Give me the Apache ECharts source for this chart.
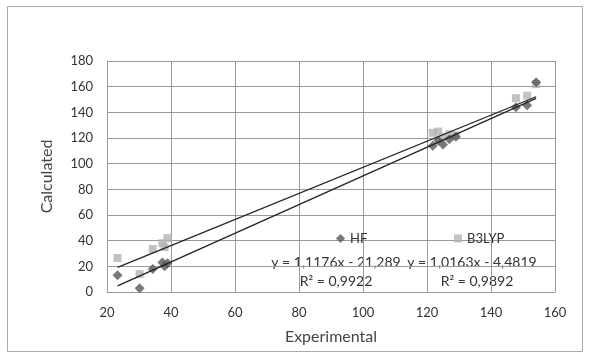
<!DOCTYPE html>
<html>
<head>
<meta charset="utf-8">
<script src="https://cdn.jsdelivr.net/npm/echarts@6/dist/echarts.min.js"></script>
<style>
  html, body { margin: 0; padding: 0; background: #fff; }
  #main { width: 591px; height: 357px; }
</style>
</head>
<body>
<div id="main"></div>
<script>
// experimental values (x), shared by both methods
var experimental = [23.3, 30.2, 34.3, 37.3, 38.0, 38.9, 121.8, 123.5, 125.0, 127.0, 129.0, 147.8, 151.3, 154.1];
var hfValues     = [13, 3, 18, 23, 20, 22.5, 114, 118, 115, 119, 121, 144, 145.5, 163.5];
var b3lypValues  = [26.5, 14, 33.5, 38, 35, 42, 124, 125, 121, 123, 122, 151, 153, 162];

// trendlines as printed on the chart
var hfFit    = { slope: 1.1176, intercept: -21.289, eq: 'y = 1,1176x - 21,289', r2: 'R² = 0,9922' };
var b3lypFit = { slope: 1.0163, intercept: -4.4819, eq: 'y = 1,0163x - 4,4819', r2: 'R² = 0,9892' };

var xTicks = [20, 40, 60, 80, 100, 120, 140, 160];
var yTicks = [0, 20, 40, 60, 80, 100, 120, 140, 160, 180];

function pairs(xs, ys) {
    return xs.map(function (x, i) { return [x, ys[i]]; });
}
function fitLine(fit) {
    var x0 = Math.min.apply(null, experimental);
    var x1 = Math.max.apply(null, experimental);
    return [[x0, fit.slope * x0 + fit.intercept], [x1, fit.slope * x1 + fit.intercept]];
}

var chartDom = document.getElementById('main');
var myChart = echarts.init(chartDom, null, { renderer: 'canvas' });
var font = 'Lato, "Liberation Sans", sans-serif';
var option;

option = {
    animation: false,
    backgroundColor: '#fff',
    textStyle: { fontFamily: font },
    grid: { left: 107, top: 61, right: 36, bottom: 65 },
    legend: [
        {
            data: [{ name: 'HF', icon: 'diamond' }],
            left: 331, top: 227,
            itemWidth: 9, itemHeight: 9,
            textStyle: { color: '#333', fontSize: 13, fontFamily: font }
        },
        {
            data: [{ name: 'B3LYP', icon: 'rect' }],
            left: 449, top: 227,
            itemWidth: 8, itemHeight: 8,
            textStyle: { color: '#333', fontSize: 13, fontFamily: font }
        }
    ],
    xAxis: {
        type: 'value',
        min: xTicks[0], max: xTicks[xTicks.length - 1], interval: 20,
        name: 'Experimental',
        nameLocation: 'middle', nameGap: 37,
        nameTextStyle: { color: '#444', fontSize: 16, fontFamily: font },
        axisLine: { show: true, lineStyle: { color: '#999' } },
        axisTick: { show: false },
        axisLabel: { color: '#333', fontSize: 13, margin: 14 },
        splitLine: { show: true, lineStyle: { color: '#999', width: 1 } }
    },
    yAxis: {
        type: 'value',
        min: yTicks[0], max: yTicks[yTicks.length - 1], interval: 20,
        name: 'Calculated',
        nameLocation: 'middle', nameGap: 52,
        nameTextStyle: { color: '#444', fontSize: 16, fontFamily: font },
        axisLine: { show: true, lineStyle: { color: '#999' } },
        axisTick: { show: false },
        axisLabel: { color: '#333', fontSize: 13, margin: 14 },
        splitLine: { show: true, lineStyle: { color: '#999', width: 1 } }
    },
    series: [
        {
            name: 'B3LYP',
            type: 'scatter',
            symbol: 'rect',
            symbolSize: 8,
            itemStyle: { color: '#b3b3b3' },
            data: pairs(experimental, b3lypValues),
            z: 2
        },
        {
            name: 'HF',
            type: 'scatter',
            symbol: 'diamond',
            symbolSize: 10,
            itemStyle: { color: '#585858' },
            data: pairs(experimental, hfValues),
            z: 3
        },
        {
            name: 'HF trend',
            type: 'line',
            data: fitLine(hfFit),
            symbol: 'none',
            lineStyle: { color: '#222', width: 1.3 },
            z: 4
        },
        {
            name: 'B3LYP trend',
            type: 'line',
            data: fitLine(b3lypFit),
            symbol: 'none',
            lineStyle: { color: '#222', width: 1.3 },
            z: 4
        }
    ],
    graphic: [
        {
            type: 'rect',
            shape: { x: 7.5, y: 6.5, width: 575, height: 345 },
            style: { fill: null, stroke: '#aaa', lineWidth: 1 },
            silent: true
        },
        { type: 'text', x: 336, y: 262, style: { text: hfFit.eq, align: 'center', verticalAlign: 'middle', fill: '#333', fontSize: 14, fontFamily: font } },
        { type: 'text', x: 336, y: 281, style: { text: hfFit.r2, align: 'center', verticalAlign: 'middle', fill: '#333', fontSize: 14, fontFamily: font } },
        { type: 'text', x: 472, y: 262, style: { text: b3lypFit.eq, align: 'center', verticalAlign: 'middle', fill: '#333', fontSize: 14, fontFamily: font } },
        { type: 'text', x: 477, y: 281, style: { text: b3lypFit.r2, align: 'center', verticalAlign: 'middle', fill: '#333', fontSize: 14, fontFamily: font } }
    ]
};

option && myChart.setOption(option);
</script>
</body>
</html>
